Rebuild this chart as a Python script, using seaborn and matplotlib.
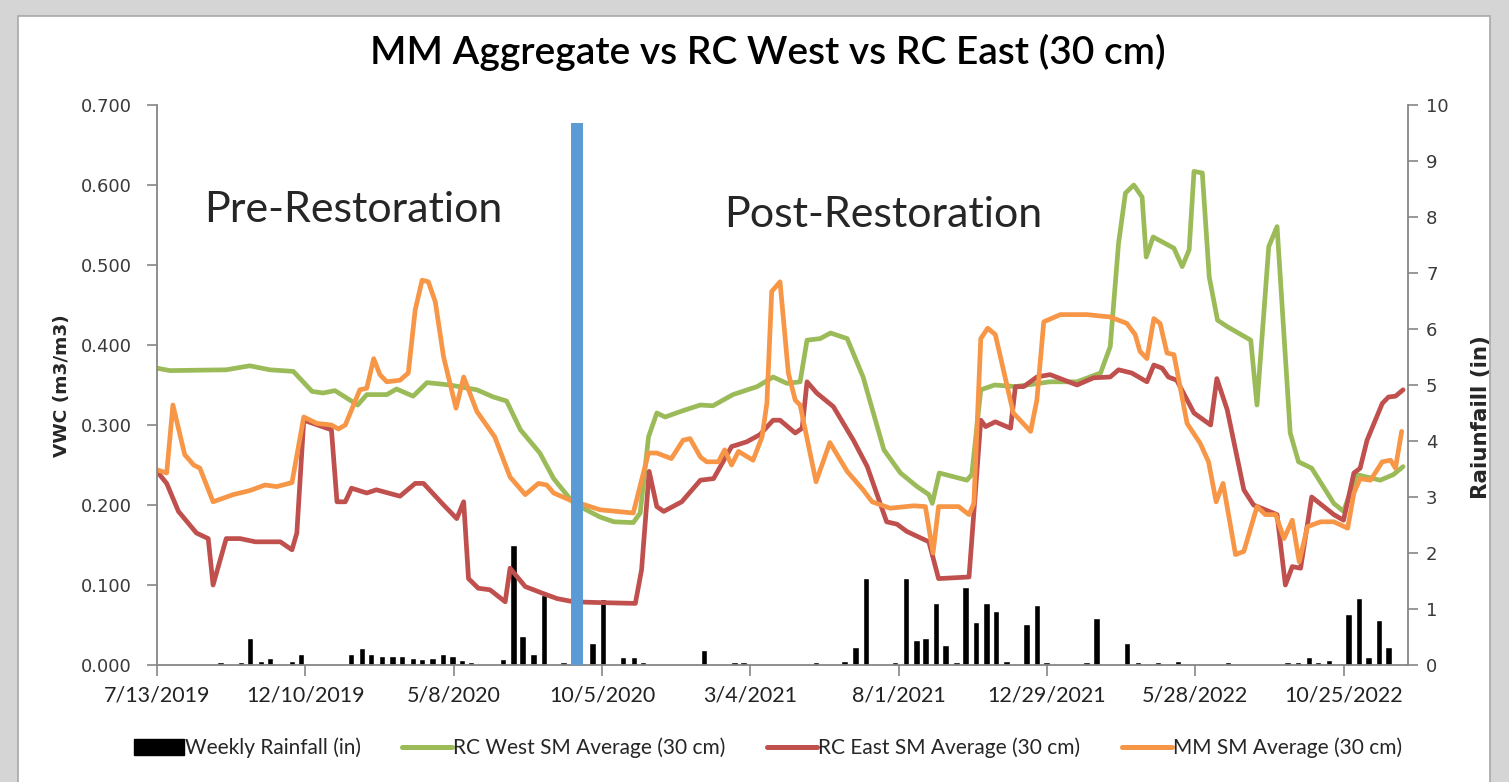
import pandas as pd
import matplotlib
matplotlib.use("Agg")
import matplotlib.pyplot as plt
import matplotlib.patches as mpatches
from matplotlib.lines import Line2D
from matplotlib.ticker import FormatStrFormatter
import seaborn as sns

# all x values are weeks counted from the first reading (7/13/2019)
start = pd.Timestamp("2019-07-13")

# RC West SM Average (30 cm)
wk_west = [0, 1.9, 10, 13.4, 16.3, 19.7, 22.4, 24, 25.7, 29, 30.3, 33.2, 34.6, 37, 39, 42.3, 46.2,
           48.6, 50.5, 52.5, 55.3, 57.3, 60.2, 64, 66, 68.8, 69.8, 71, 72.2, 73.4, 76, 78.5, 80.3,
           83.2, 86.7, 89, 91, 92.9, 93.9, 95.8, 97.3, 99.7, 102, 105, 107.4, 109.8, 111.5, 112,
           113, 117, 117.7, 119, 121, 124, 129, 132.9, 136.3, 137.7, 138.9, 139.9, 141.1, 142.3,
           142.9, 143.9, 146.9, 148.1, 149.1, 149.8, 151, 152, 153.2, 154.6, 158, 158.9, 160.6,
           161.8, 163.7, 164.9, 166.8, 170, 171.4, 173.3, 176.7, 178.6, 180]
west = [0.371, 0.368, 0.369, 0.374, 0.369, 0.367, 0.342, 0.340, 0.343, 0.325, 0.338, 0.338, 0.345,
        0.336, 0.353, 0.350, 0.344, 0.335, 0.330, 0.294, 0.265, 0.233, 0.202, 0.185, 0.179, 0.178,
        0.190, 0.285, 0.315, 0.310, 0.318, 0.325, 0.324, 0.338, 0.348, 0.360, 0.352, 0.354, 0.406,
        0.408, 0.415, 0.408, 0.360, 0.269, 0.240, 0.223, 0.213, 0.202, 0.240, 0.231, 0.238, 0.344,
        0.350, 0.348, 0.354, 0.354, 0.365, 0.398, 0.527, 0.590, 0.600, 0.585, 0.510, 0.535, 0.521,
        0.498, 0.519, 0.617, 0.615, 0.485, 0.431, 0.423, 0.406, 0.325, 0.523, 0.548, 0.290, 0.254,
        0.246, 0.202, 0.192, 0.238, 0.231, 0.238, 0.248]

# RC East SM Average (30 cm)
wk_east = [0, 1.4, 3.1, 5.7, 7.4, 8.1, 10, 12, 14.2, 17.8, 19.5, 20.2, 21.2, 25.2, 26, 27.2, 28.1,
           30.3, 31.7, 35.1, 37.3, 38.5, 41.4, 43.3, 44.3, 45, 46.4, 48.1, 50.3, 51, 53.2, 55.6,
           57.8, 60.2, 64, 69.1, 70, 71.1, 72.2, 73.2, 75.8, 78.5, 80.4, 83, 85.2, 87.1, 89, 90,
           92.2, 93.2, 93.9, 95.3, 97.7, 100.6, 102.6, 105.4, 106.9, 108.3, 111.5, 112.9, 117.3,
           119, 119.7, 121.1, 123.3, 124, 125.2, 127.1, 129, 132.9, 135.3, 137.7, 138.9, 140.8,
           143, 144, 145.2, 146.1, 147.3, 149.8, 152.2, 153.1, 154.6, 157, 158.4, 161.8, 163, 164,
           165.2, 166.8, 170, 171.4, 172.9, 173.8, 174.8, 177, 177.9, 178.9, 180]
east = [0.242, 0.227, 0.192, 0.165, 0.158, 0.100, 0.158, 0.158, 0.154, 0.154, 0.144, 0.165, 0.306,
        0.294, 0.204, 0.204, 0.221, 0.215, 0.219, 0.211, 0.227, 0.227, 0.200, 0.183, 0.204, 0.108,
        0.096, 0.094, 0.079, 0.121, 0.098, 0.090, 0.083, 0.079, 0.078, 0.077, 0.119, 0.242, 0.198,
        0.192, 0.204, 0.231, 0.233, 0.273, 0.279, 0.288, 0.306, 0.306, 0.290, 0.296, 0.354, 0.340,
        0.323, 0.281, 0.248, 0.179, 0.176, 0.167, 0.154, 0.108, 0.110, 0.306, 0.298, 0.304, 0.296,
        0.348, 0.348, 0.360, 0.363, 0.350, 0.359, 0.360, 0.369, 0.365, 0.354, 0.375, 0.371, 0.360,
        0.356, 0.315, 0.300, 0.358, 0.319, 0.219, 0.200, 0.188, 0.100, 0.123, 0.121, 0.210, 0.188,
        0.181, 0.240, 0.246, 0.281, 0.327, 0.335, 0.336, 0.344]

# MM SM Average (30 cm)
wk_mm = [0, 1.4, 2.3, 4, 5.3, 6.2, 8.1, 11, 13.4, 15.6, 17.3, 19.5, 21.2, 23.1, 25.2, 26.2, 27.2,
         29.3, 30.3, 31.3, 32.2, 33.2, 35.1, 36.3, 37.3, 38.3, 39.2, 40.2, 41.4, 43.2, 44.3, 46.2,
         48.8, 51, 53.2, 55.1, 56.3, 57.3, 59.7, 64, 68.8, 71, 72.2, 74.3, 76, 77, 78.5, 79.4,
         81.1, 82, 83, 84, 86.1, 87.4, 88.1, 88.8, 90, 91.2, 92.2, 92.9, 95.2, 97.2, 99.7, 102,
         103.3, 105.9, 109.3, 111, 112.1, 112.9, 115.8, 117.3, 118, 119, 120, 121.1, 123.7, 126.2,
         127.1, 128.1, 130.5, 134.3, 137.7, 140.1, 141.3, 142, 143, 144, 144.9, 145.9, 146.9,
         148.8, 150.7, 151.9, 153, 154, 155.8, 157, 158.9, 160.1, 161.6, 162.8, 164, 165, 166.2,
         168.1, 170, 172, 172.9, 173.8, 175.3, 177, 178.2, 178.9, 179.8]
mm = [0.244, 0.240, 0.325, 0.263, 0.250, 0.246, 0.204, 0.213, 0.218, 0.225, 0.223, 0.228, 0.310,
      0.302, 0.300, 0.295, 0.300, 0.344, 0.346, 0.383, 0.363, 0.354, 0.356, 0.365, 0.444, 0.481,
      0.479, 0.454, 0.385, 0.321, 0.360, 0.317, 0.285, 0.235, 0.213, 0.227, 0.225, 0.215, 0.206,
      0.194, 0.190, 0.265, 0.265, 0.258, 0.281, 0.283, 0.260, 0.254, 0.254, 0.269, 0.250, 0.267,
      0.256, 0.285, 0.327, 0.467, 0.479, 0.365, 0.331, 0.325, 0.229, 0.278, 0.242, 0.219, 0.204,
      0.196, 0.199, 0.198, 0.140, 0.198, 0.198, 0.188, 0.202, 0.408, 0.421, 0.413, 0.315, 0.292,
      0.331, 0.429, 0.438, 0.438, 0.435, 0.427, 0.413, 0.392, 0.383, 0.433, 0.427, 0.390, 0.388,
      0.302, 0.277, 0.254, 0.204, 0.227, 0.138, 0.142, 0.198, 0.188, 0.188, 0.158, 0.181, 0.129,
      0.173, 0.179, 0.179, 0.171, 0.215, 0.233, 0.231, 0.254, 0.256, 0.246, 0.292]

# Weekly Rainfall (in)
wk_rain = [9.2, 12.1, 13.4, 15, 16.3, 19.5, 20.8, 28, 29.6, 30.9, 32.5, 34, 35.4, 37, 38.3, 39.8,
           41.3, 42.7, 44.1, 45.4, 50, 51.5, 52.8, 54.4, 55.9, 58.7, 62.9, 64.4, 67.3, 68.9, 70.2,
           79, 83.4, 84.7, 95.2, 99.3, 100.9, 102.4, 106.6, 108.2, 109.7, 111, 112.5, 113.9,
           115.5, 116.8, 118.3, 119.8, 121.2, 122.7, 125.6, 127.1, 128.5, 134.3, 135.7, 140.1,
           141.7, 144.6, 147.5, 154.7, 163.3, 164.8, 166.4, 167.7, 169.3, 172.1, 173.6, 175,
           176.5, 177.9]
rain = [0.05, 0.05, 0.49, 0.07, 0.13, 0.07, 0.2, 0.2, 0.3, 0.2, 0.16, 0.16, 0.16, 0.13, 0.1, 0.13,
        0.2, 0.16, 0.09, 0.06, 0.1, 2.14, 0.52, 0.2, 1.25, 0.05, 0.39, 1.17, 0.15, 0.15, 0.05,
        0.26, 0.05, 0.05, 0.05, 0.07, 0.32, 1.55, 0.05, 1.55, 0.45, 0.48, 1.10, 0.35, 0.05, 1.39,
        0.77, 1.10, 0.97, 0.07, 0.74, 1.07, 0.05, 0.05, 0.84, 0.39, 0.05, 0.05, 0.07, 0.05, 0.05,
        0.05, 0.14, 0.06, 0.09, 0.91, 1.19, 0.15, 0.80, 0.33]

# restoration marker
wk_restore = 60.7
restore_top = 0.678

GREEN = "#9BBB59"
RED = "#C0504D"
ORANGE = "#F79646"
BLUE = "#5B9BD5"
GREY = "#868686"


def to_dates(weeks):
    return start + pd.to_timedelta([w * 7 for w in weeks], unit="D")


sns.set_style("white")
plt.rcParams["font.family"] = ["Lato", "DejaVu Sans"]

W, H = 1509, 782
fig = plt.figure(figsize=(W / 100, H / 100), dpi=100, facecolor="#d5d5d5")
fig.patches.append(mpatches.Rectangle((18 / W, -0.01), (1490 - 18) / W, 1 - 16 / H + 0.01,
                                      transform=fig.transFigure, facecolor="white",
                                      edgecolor="#a8a8a8", lw=1.2, zorder=-5))

ax = fig.add_axes([157 / W, 1 - 665 / H, (1408 - 157) / W, (665 - 105) / H])
ax2 = ax.twinx()

# rainfall bars on the secondary axis
ax2.bar(to_dates(wk_rain), rain, width=6.5, color="black", zorder=2)
ax2.set_ylim(0, 10)
ax2.set_yticks(range(0, 11))

# soil moisture lines
sns.lineplot(x=to_dates(wk_west), y=west, ax=ax, color=GREEN, lw=3.4, sort=False)
sns.lineplot(x=to_dates(wk_east), y=east, ax=ax, color=RED, lw=3.4, sort=False)
sns.lineplot(x=to_dates(wk_mm), y=mm, ax=ax, color=ORANGE, lw=3.4, sort=False)
d_rest = to_dates([wk_restore])[0]
ax.plot([d_rest, d_rest], [0, restore_top], color=BLUE, lw=8.6, solid_capstyle="butt", zorder=5,
        clip_on=False)

ax.set_zorder(ax2.get_zorder() + 1)
ax.patch.set_visible(False)

ax.set_ylim(0, 0.7)
ax.set_yticks([i / 10 for i in range(8)])
ax.yaxis.set_major_formatter(FormatStrFormatter("%.3f"))
ticks = [start + pd.Timedelta(days=150 * k) for k in range(9)]
ax.set_xlim(start, start + pd.Timedelta(days=1265))
ax.set_xticks(ticks)
ax.set_xticklabels([f"{t.month}/{t.day}/{t.year}" for t in ticks], fontsize=15.5)
ax.set_xlabel("")
ax.set_ylabel("")

for a in (ax, ax2):
    for s in a.spines.values():
        s.set_visible(False)
ax.spines["left"].set_visible(True)
ax.spines["bottom"].set_visible(True)
ax2.spines["right"].set_visible(True)
for s in (ax.spines["left"], ax.spines["bottom"], ax2.spines["right"]):
    s.set_color(GREY)
    s.set_linewidth(1.3)

ax.tick_params(axis="y", direction="out", length=7, width=1.2, color=GREY, pad=11, left=True)
ax.tick_params(axis="x", direction="out", length=8, width=1.2, color=GREY, pad=7, bottom=True)
ax2.tick_params(axis="y", direction="out", length=7, width=1.2, color=GREY, pad=6, right=True)
for lab in ax.get_yticklabels() + ax2.get_yticklabels():
    lab.set_family("DejaVu Sans")
    lab.set_fontsize(13)
    lab.set_color("#3a3a3a")
for lab in ax.get_xticklabels():
    lab.set_color("#222222")

fig.text(768 / W, 1 - 52 / H, "MM Aggregate vs RC West vs RC East (30 cm)", ha="center",
         va="center", fontsize=28, weight="semibold", color="black")
fig.text(62 / W, 1 - 386 / H, "VWC (m3/m3)", rotation=90, ha="center", va="center",
         fontsize=13.3, weight="bold", family="DejaVu Sans")
fig.text(1481 / W, 1 - 417 / H, "Raiunfaill (in)", rotation=90, ha="center", va="center",
         fontsize=15.5, weight="bold", family="DejaVu Sans")
fig.text(353 / W, 1 - 210 / H, "Pre-Restoration", ha="center", va="center", fontsize=31)
fig.text(883 / W, 1 - 215 / H, "Post-Restoration", ha="center", va="center", fontsize=31)

handles = [mpatches.Patch(facecolor="black", edgecolor="black"),
           Line2D([], [], color=GREEN, lw=3.6),
           Line2D([], [], color=RED, lw=3.6),
           Line2D([], [], color=ORANGE, lw=3.6)]
labels = ["Weekly Rainfall (in)", "RC West SM Average (30 cm)", "RC East SM Average (30 cm)",
          "MM SM Average (30 cm)"]
fig.legend(handles, labels, loc="center", bbox_to_anchor=(768 / W, 1 - 748 / H), ncol=4,
           frameon=False, fontsize=15, handlelength=2.4, handleheight=0.85, handletextpad=0.05,
           columnspacing=2.0, borderpad=0.2)

fig.savefig("out.png", dpi=100, facecolor=fig.get_facecolor())
